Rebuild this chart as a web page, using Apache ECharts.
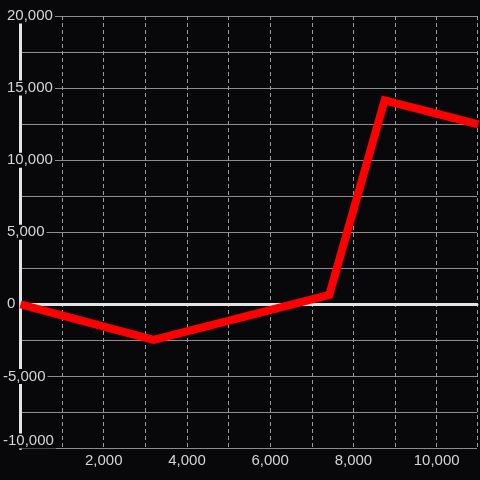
<!DOCTYPE html>
<html>
<head>
<meta charset="utf-8">
<script src="https://cdn.jsdelivr.net/npm/echarts@6/dist/echarts.min.js"></script>
<style>
html,body{margin:0;padding:0;background:#08080b;}
#c{width:480px;height:480px;}
</style>
</head>
<body>
<div id="c"></div>
<script>
const xValues = [0, 3200, 7420, 8750, 11000];
const yValues = [0, -2470, 650, 14150, 12480];
const xTickLabels = [2000, 4000, 6000, 8000, 10000];
const yTickLabels = [-10000, -5000, 0, 5000, 10000, 15000, 20000];

const BG = '#08080b';
const fmt = v => v.toLocaleString('en-US');
const chart = echarts.init(document.getElementById('c'));
chart.setOption({
  backgroundColor: BG,
  animation: false,
  grid: {left: 20.5, right: 0, top: 16, bottom: 31.5, containLabel: false},
  xAxis: [{
    type: 'value', min: 0, max: 10970, interval: 1000, position: 'bottom',
    axisLine: {show: false, onZero: false},
    axisTick: {show: false},
    axisLabel: {
      color: '#d4d4d4', fontSize: 15, fontFamily: 'Liberation Sans', margin: 5,
      formatter: v => xTickLabels.indexOf(v) >= 0 ? fmt(v) : ''
    },
    splitLine: {show: true, lineStyle: {color: '#9a9a9a', width: 1, type: [4, 3]}}
  }, {
    type: 'value', min: 0, max: 10970, position: 'top',
    axisLine: {show: true, onZero: true, lineStyle: {color: '#e4e4e4', width: 3}},
    axisTick: {show: false}, axisLabel: {show: false}, splitLine: {show: false}
  }],
  yAxis: {
    type: 'value', min: -10000, max: 20000, interval: 2500,
    axisLine: {show: true, onZero: false, lineStyle: {color: '#e4e4e4', width: 3}},
    axisTick: {show: false},
    axisLabel: {
      margin: 17.5, align: 'left', verticalAlignMinLabel: 'bottom',
      formatter: v => {
        if (yTickLabels.indexOf(v) < 0) return '';
        return (v < 0 ? '{n|' : '{p|') + fmt(v) + '}';
      },
      rich: {
        p: {color: '#d4d4d4', fontSize: 15, fontFamily: 'Liberation Sans', lineHeight: 15,
            backgroundColor: BG, padding: [0, 2, 0, 4]},
        n: {color: '#d4d4d4', fontSize: 15, fontFamily: 'Liberation Sans', lineHeight: 15,
            backgroundColor: BG, padding: [0, 2, 0, 0]}
      }
    },
    splitLine: {show: true, lineStyle: {color: '#8c8c8c', width: 1}}
  },
  series: [{
    type: 'line', xAxisIndex: 0, z: 5,
    data: xValues.map((x, i) => [x, yValues[i]]),
    symbol: 'none', clip: true,
    lineStyle: {color: '#ff0000', width: 8, join: 'miter'}
  }]
});
</script>
</body>
</html>
